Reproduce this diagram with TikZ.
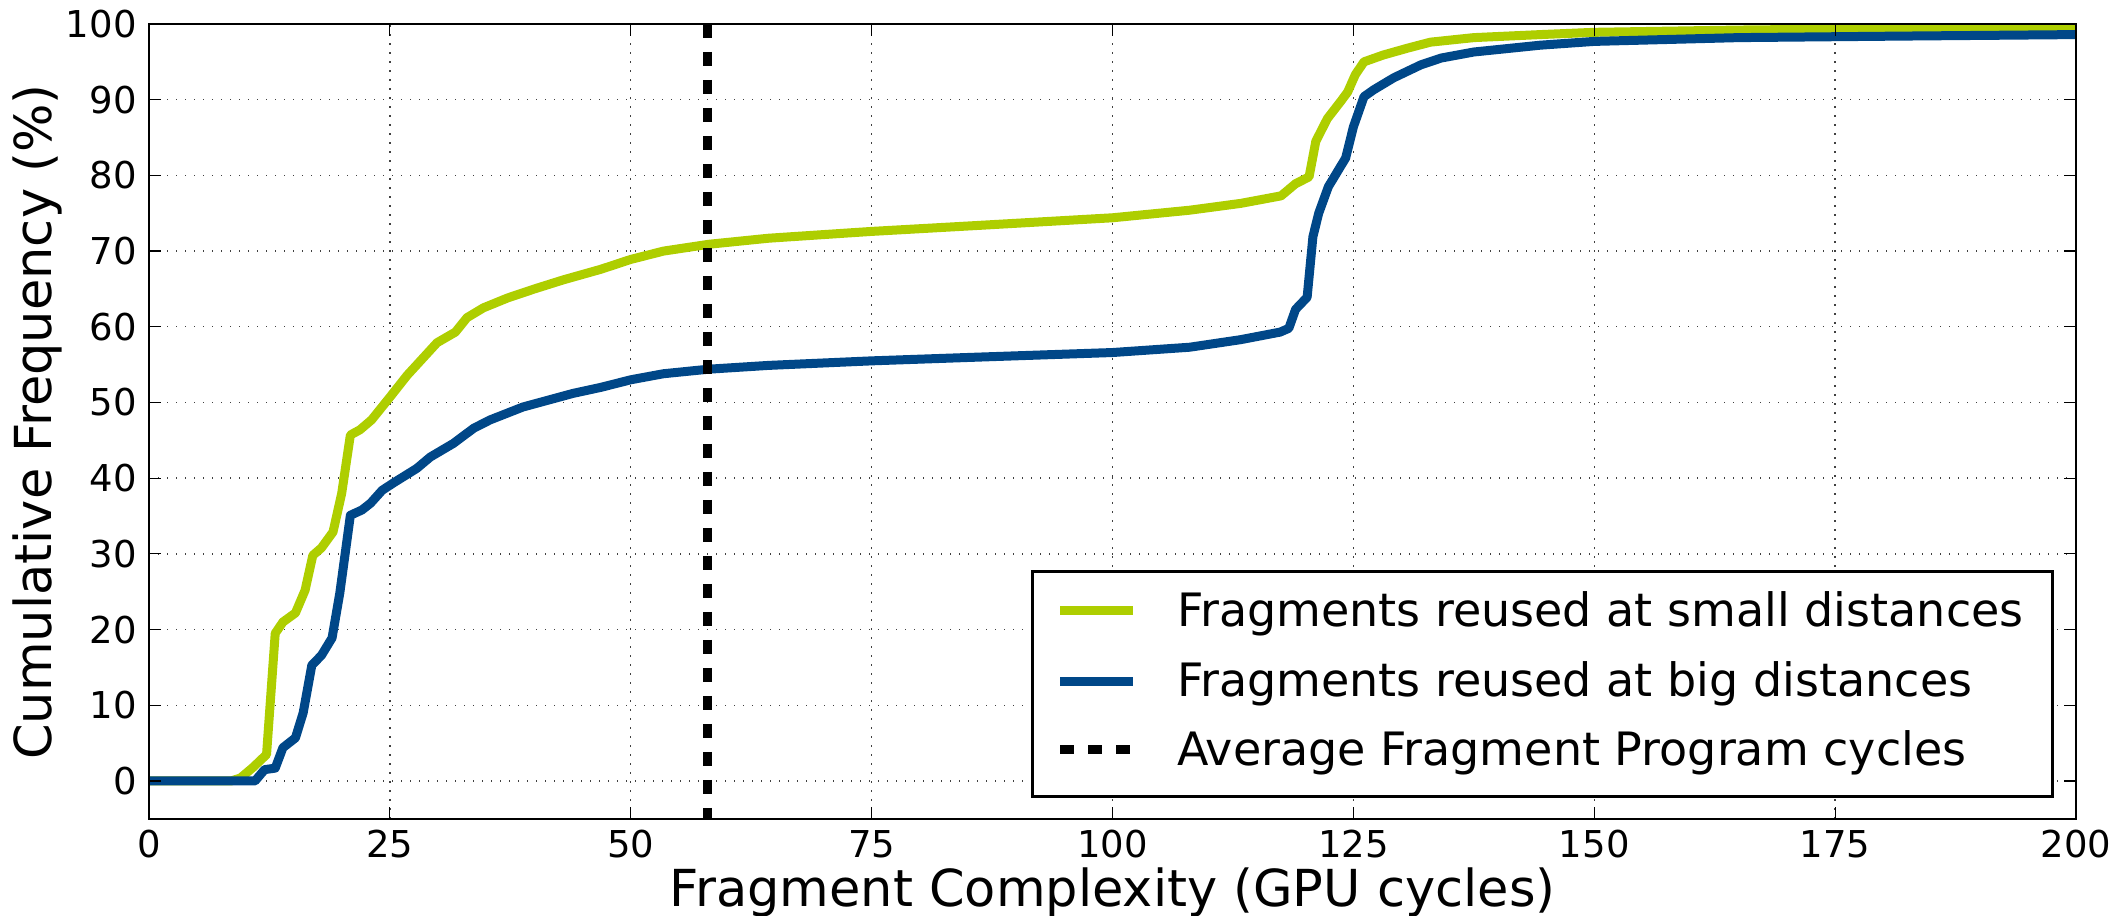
\documentclass[tikz,border=0pt]{standalone}
\usepackage{fontspec}
\setmainfont{DejaVu Sans}
\definecolor{cgreen}{RGB}{174,206,0}
\definecolor{cblue}{RGB}{0,71,136}
\begin{document}
\begin{tikzpicture}[
  gridline/.style={black!75, line width=0.7pt, dash pattern=on 0.7pt off 3.8pt},
  curvegreen/.style={cgreen, line width=4.5pt, line join=round},
  curveblue/.style={cblue, line width=4.5pt, line join=round},
  avgline/.style={black, line width=4.5pt, dash pattern=on 7pt off 7pt},
  frameline/.style={black, line width=1.3pt},
  tickline/.style={black, line width=0.6pt},
  ticklabel/.style={font=\fontsize{18.5}{20}\selectfont, inner sep=0pt},
  axislabel/.style={font=\fontsize{25.5}{28}\selectfont, inner sep=0pt},
  legendtext/.style={font=\fontsize{23}{25}\selectfont, inner sep=0pt, anchor=base west},
]
\useasboundingbox (0,0) rectangle (1055.5pt,458pt);
\begin{scope}[x=4.8175pt, y=3.785pt, shift={(74.5pt,67.5pt)}]
  % grid
  \foreach \gx in {25,50,...,175} \draw[gridline] (\gx,-5) -- (\gx,100);
  \foreach \gy in {0,10,...,90} \draw[gridline] (0,\gy) -- (200,\gy);
  % curves
  \begin{scope}
    \clip (0,-5) rectangle (200,100);
    \draw[curvegreen] plot coordinates {(0,0) (8.5,0) (9.5,0.4) (10.8,1.8) (12.2,3.5) (13.1,19.5) (13.9,21) (15.2,22.2) (16.2,25.2) (17,29.8) (17.9,30.8) (19.1,32.9) (20,38) (20.9,45.7) (21.9,46.4) (23.1,47.7) (25,50.7) (26.8,53.6) (28.1,55.4) (29.9,57.9) (31.8,59.3) (33,61.2) (34.7,62.5) (37.2,63.8) (40,65) (43,66.2) (46.9,67.6) (50,68.9) (53.4,70) (58.1,70.9) (64.3,71.7) (75,72.6) (86.2,73.4) (100,74.4) (108,75.4) (113.3,76.3) (117.5,77.3) (119,78.9) (120.4,79.8) (121.1,84.5) (122.3,87.5) (123.7,89.8) (124.4,91) (125.2,93.3) (126.1,95) (128.1,95.9) (130.6,96.8) (133,97.6) (137.5,98.2) (144.4,98.6) (150,98.9) (165,99.2) (181.8,99.4) (200,99.5)};
    \draw[curveblue] plot coordinates {(0,0) (11,0) (12,1.5) (13.1,1.7) (13.9,4.4) (15.2,5.7) (16,9) (16.9,15.3) (17.9,16.6) (19,18.9) (19.8,24.8) (20.9,35.1) (22.1,35.8) (23,36.7) (24.2,38.4) (25.4,39.4) (27.8,41.3) (29.2,42.8) (31.6,44.6) (33.7,46.6) (35.4,47.7) (38.8,49.4) (44,51.2) (46.9,52) (50,53) (53.4,53.8) (58.1,54.4) (64.3,54.9) (75,55.5) (86.2,56) (100,56.6) (108,57.3) (113.3,58.3) (117.4,59.3) (118.3,59.8) (119,62.3) (120.2,63.9) (120.8,71.9) (121.4,75) (122.4,78.5) (124.2,82.3) (125,86.4) (126.1,90.4) (127.1,91.3) (129.2,92.9) (132,94.6) (134.1,95.5) (137.5,96.3) (144.4,97.2) (150,97.7) (165,98.2) (181.8,98.4) (200,98.6)};
  \end{scope}
  % average line
  \coordinate (avgtop) at (58,100);
  \coordinate (avgbot) at (58,-5);
  \draw[avgline] (avgtop) -- (avgbot);
  % ticks
  \foreach \gx in {0,25,...,200} {
    \draw[tickline] (\gx,-5) -- ++(0,6pt);
    \draw[tickline] (\gx,100) -- ++(0,-6pt);
  }
  \foreach \gy in {0,10,...,100} {
    \draw[tickline] (0,\gy) -- ++(6pt,0);
    \draw[tickline] (200,\gy) -- ++(-6pt,0);
  }
  % frame
  \draw[frameline] (0,-5) rectangle (200,100);
  % tick labels
  \foreach \gy in {0,10,...,100}
    \node[ticklabel, anchor=east] (yt\gy) at ([xshift=-6pt]0,\gy) {\gy};
  \foreach \gx in {0,25,...,200}
    \node[ticklabel, anchor=north] (xt\gx) at ([yshift=-5.5pt]\gx,-5) {\gx};
\end{scope}
% axis labels
\node[axislabel, anchor=base] (xlabel) at (556.25pt,4.5pt) {Fragment Complexity (GPU cycles)};
\node[axislabel, anchor=base, rotate=90] (ylabel) at (25.9pt,247pt) {Cumulative Frequency (\%)};
% legend
\draw[frameline, fill=white] (516.25pt,59.65pt) rectangle (1026.3pt,172.15pt);
\coordinate (l1a) at (530pt,152.5pt); \coordinate (l1b) at (566.5pt,152.5pt);
\coordinate (l2a) at (530pt,117.2pt); \coordinate (l2b) at (566.5pt,117.2pt);
\coordinate (l3a) at (530pt,83pt);    \coordinate (l3b) at (566.5pt,83pt);
\draw[curvegreen, line join=miter] (l1a) -- (l1b);
\draw[curveblue, line join=miter] (l2a) -- (l2b);
\draw[avgline] (l3a) -- (l3b);
\node[legendtext] (leg1) at (588.3pt,144.5pt) {Fragments reused at small distances};
\node[legendtext] (leg2) at (588.3pt,109.5pt) {Fragments reused at big distances};
\node[legendtext] (leg3) at (588.3pt,75pt) {Average Fragment Program cycles};
\end{tikzpicture}
\end{document}
